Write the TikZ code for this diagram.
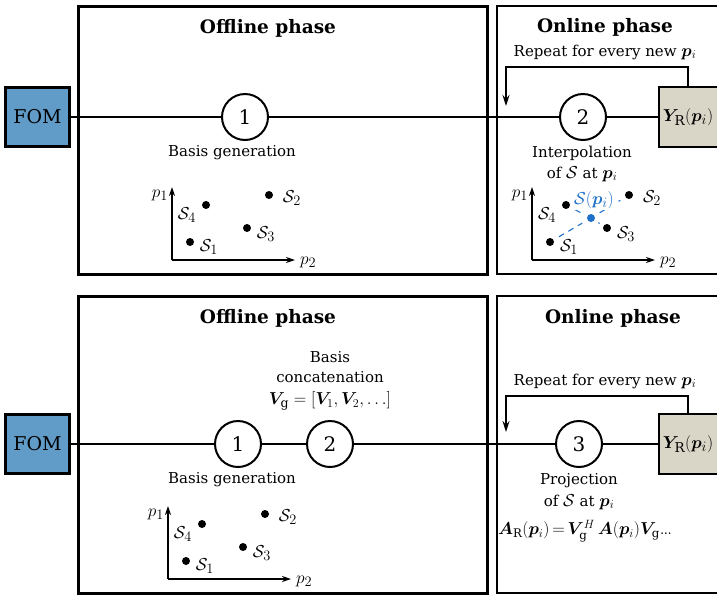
\documentclass[tikz,border=0pt]{standalone}
\usepackage{bm}
\usepackage{fontspec}
\setmainfont{DejaVu Serif}
\usetikzlibrary{arrows.meta,calc}

% Latin Modern math looks small next to DejaVu Serif: enlarge it
\DeclareMathSizes{15}{17.5}{12.5}{9}
\DeclareMathSizes{17}{18.5}{13.5}{10}
\DeclareMathSizes{16.5}{19}{13.6}{10}
\DeclareMathSizes{14}{16}{11.8}{8}

\definecolor{fomfill}{RGB}{97,155,199}
\definecolor{romfill}{RGB}{217,214,200}
\definecolor{interp}{RGB}{30,112,200}

\tikzset{
  base/.style={font=\fontsize{15}{18}\selectfont, align=center, inner sep=0pt},
  formula/.style={font=\fontsize{14}{17}\selectfont, inner sep=0pt},
  title/.style={font=\fontsize{18.5}{22}\selectfont\bfseries, inner sep=0pt},
  offbox/.style={draw, line width=3pt},
  onbox/.style={draw, line width=1.5pt},
  fombox/.style={draw, line width=2.2pt, fill=fomfill, minimum width=64pt,
    minimum height=59pt, inner sep=0pt, font=\fontsize{19}{22}\selectfont},
  rombox/.style={draw, line width=2pt, fill=romfill, minimum width=59pt,
    minimum height=60pt, inner sep=0pt, font=\fontsize{17}{20}\selectfont},
  stepcirc/.style={draw, circle, line width=2pt, minimum size=46pt, inner sep=0pt,
    font=\fontsize{20}{23}\selectfont},
  flow/.style={line width=1.5pt},
  loop/.style={line width=1.5pt, -{Stealth[length=11pt,width=7pt]}},
  axis/.style={line width=1.3pt, -{Stealth[length=9pt,width=6pt]}},
  dot/.style={circle, fill=black, minimum size=8pt, inner sep=0pt},
  bdot/.style={circle, fill=interp, minimum size=8pt, inner sep=0pt},
  plotlbl/.style={font=\fontsize{16.5}{19}\selectfont, inner sep=0pt},
  bluedash/.style={draw=interp, line width=1.1pt, dash pattern=on 6pt off 5pt},
  paramplot/.pic={
    \coordinate (-o) at (0,0);
    \coordinate (-top) at (0,-73);
    \coordinate (-end) at (123,0);
    \draw[axis] (-o) -- (-top);
    \draw[axis] (-o) -- (-end);
    \node[plotlbl, anchor=east] (-p1) at (-4,-65) {$p_1$};
    \node[plotlbl, anchor=west] (-p2) at (128,2) {$p_2$};
    \node[dot] (-s1) at (18,-18) {};
    \node[dot] (-s2) at (97,-65) {};
    \node[dot] (-s3) at (75,-32) {};
    \node[dot] (-s4) at (34,-55) {};
    \node[plotlbl] (-l1) at (37,-13) {$\mathcal{S}_1$};
    \node[plotlbl] (-l2) at (120,-62) {$\mathcal{S}_2$};
    \node[plotlbl] (-l3) at (94,-26) {$\mathcal{S}_3$};
    \node[plotlbl] (-l4) at (15,-45) {$\mathcal{S}_4$};
  }
}

\begin{document}
\begin{tikzpicture}[x=1pt, y=-1pt]
\useasboundingbox (0,0) rectangle (717,595);
\clip (0,0) rectangle (717,595);

% ---------- upper scheme: interpolation of bases ----------
\draw[offbox] (78,6) rectangle (487,274);
\draw[onbox] (497,6) rectangle (780,274);

\node[title] (offT1) at (268,28) {Offline phase};
\node[title] (onT1) at (605,27) {Online phase};

\node[fombox] (fom1) at (37.5,117) {FOM};
\node[stepcirc] (a1) at (245,117) {1};
\node[stepcirc] (a2) at (583,117) {2};
\node[rombox] (y1) at (688,117) {$\bm{Y}_{\mathrm{R}}(\bm{p}_i)$};

\draw[flow] (fom1) -- (a1) -- (a2) -- (y1);

\node[base] (rep1) at (605,52) {Repeat for every new $\bm{p}_i$};
\coordinate (turn1) at (506,67);
\coordinate (back1) at (506,106);
\draw[loop] (y1.north) |- (turn1) -- (back1);

\node[base] (gen1) at (232,153) {Basis generation};
\node[base] (int1) at (582,153) {Interpolation};
\node[base] (int2) at (582,174) {of $\mathcal{S}$ at $\bm{p}_i$};

\pic (pa) at (172,260) {paramplot};
\pic (pb) at (532,260) {paramplot};

\node[bdot] (pint) at (591,218) {};
\draw[bluedash, shorten <=6pt, shorten >=6pt] (pb-s1) -- (pint);
\draw[bluedash, shorten <=6pt, shorten >=6pt] (pint) -- (pb-s2);
\draw[bluedash, shorten <=6pt, shorten >=6pt] (pb-s4) -- (pint);
\draw[bluedash, shorten <=6pt, shorten >=6pt] (pint) -- (pb-s3);
\node[plotlbl, text=interp, fill=white, inner sep=1pt] (plab) at (594,200) {$\mathcal{S}(\bm{p}_i)$};

% ---------- lower scheme: global basis with projection ----------
\draw[offbox] (78,296) rectangle (487,593);
\draw[onbox] (497,296) rectangle (780,593);

\node[title] (offT2) at (268,318) {Offline phase};
\node[title] (onT2) at (613,318) {Online phase};

\node[fombox] (fom2) at (37.5,444) {FOM};
\node[stepcirc] (b1) at (238,444) {1};
\node[stepcirc] (b2) at (330,444) {2};
\node[stepcirc] (b3) at (579,444) {3};
\node[rombox] (y2) at (688,444) {$\bm{Y}_{\mathrm{R}}(\bm{p}_i)$};

\draw[flow] (fom2) -- (b1) -- (b2) -- (b3) -- (y2);

\node[base] (cat1) at (330,357) {Basis};
\node[base] (cat2) at (330,377) {concatenation};
\node[base] (cat3) at (330,401) {$\bm{V}_{\mathrm{g}} = [\bm{V}_1, \bm{V}_2, \ldots]$};

\node[base] (rep2) at (605,381) {Repeat for every new $\bm{p}_i$};
\coordinate (turn2) at (506,396);
\coordinate (back2) at (506,432);
\draw[loop] (y2.north) |- (turn2) -- (back2);

\node[base] (gen2) at (232,480) {Basis generation};
\node[base] (prj1) at (579,481) {Projection};
\node[base] (prj2) at (579,502) {of $\mathcal{S}$ at $\bm{p}_i$};
\node[formula] (prj3) at (585,531)
  {$\thickmuskip=3mu \bm{A}_{\mathrm{R}}(\bm{p}_i) = \bm{V}_{\mathrm{g}}^{H}\,\bm{A}(\bm{p}_i)\bm{V}_{\mathrm{g}}{.}\mkern-1mu{.}\mkern-1mu{.}$};

\pic (pc) at (168,579) {paramplot};
\end{tikzpicture}
\end{document}
